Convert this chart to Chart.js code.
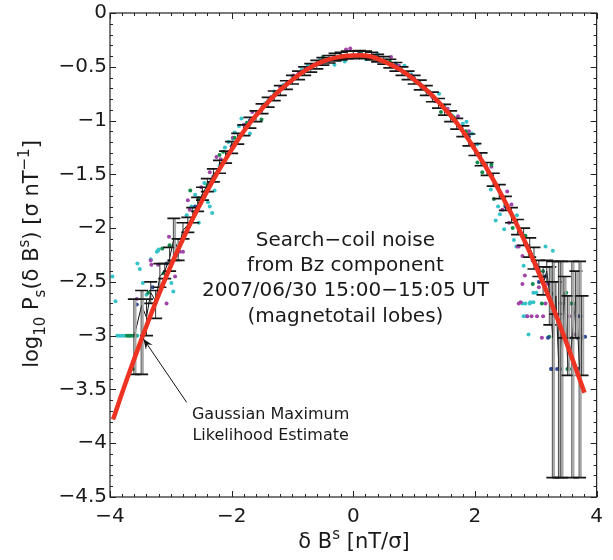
<!DOCTYPE html>
<html><head><meta charset="utf-8">
<script src="https://cdn.jsdelivr.net/npm/chart.js@4.4.1/dist/chart.umd.min.js"></script>
<style>html,body{margin:0;padding:0;background:#fff;}</style>
</head><body>
<canvas id="c" width="613" height="560" style="width:613px;height:560px;display:block"></canvas>
<script>
// ---------- data ----------
const xTickVals = [-4,-2,0,2,4];
const yTickVals = [0,-0.5,-1,-1.5,-2,-2.5,-3,-3.5,-4,-4.5];

// Gaussian maximum likelihood estimate (red curve), read at these x
const fitX = [-3.95,-3.75,-3.5,-3.25,-3.0,-2.75,-2.5,-2.25,-2.0,-1.75,-1.5,-1.25,-1.0,-0.75,-0.5,-0.25,0,0.25,0.5,0.75,1.0,1.25,1.5,1.75,2.0,2.25,2.5,2.75,3.0,3.25,3.5,3.8];
const fitY = [-3.78,-3.45,-3.06,-2.69,-2.35,-2.04,-1.76,-1.50,-1.27,-1.06,-0.89,-0.74,-0.62,-0.52,-0.45,-0.41,-0.395,-0.40,-0.45,-0.52,-0.62,-0.74,-0.89,-1.06,-1.27,-1.50,-1.76,-2.04,-2.35,-2.69,-3.06,-3.53];

// binned mean with error bars (black)
const binX = [-3.60,-3.48,-3.40,-3.33,-3.25,-3.18,-3.10,-3.02,-2.95,-2.88,-2.80,-2.72,-2.64,-2.56,-2.48,
  -2.40,-2.30,-2.20,-2.10,-2.00,-1.90,-1.80,-1.70,-1.60,-1.50,-1.40,-1.30,-1.20,-1.10,-1.00,-0.90,-0.80,-0.70,-0.60,-0.50,-0.40,-0.30,-0.20,-0.10,0.00,
  0.10,0.20,0.30,0.40,0.50,0.60,0.70,0.80,0.90,1.00,1.10,1.20,1.30,1.40,1.50,1.60,1.70,1.80,1.90,2.00,2.10,2.20,2.30,2.40,2.50,2.60,2.70,2.80,2.90,2.97,
  3.05,3.12,3.18,3.23,3.28,3.33,3.38,3.42,3.47,3.53,3.60,3.66,3.72,3.76];
const binMean = [-3.00,-2.72,-2.83,-2.60,-2.68,-2.45,-2.40,-2.28,-2.10,-2.20,-2.02,-1.97,-1.88,-1.78,-1.68,
  -1.60,-1.51,-1.43,-1.34,-1.25,-1.17,-1.09,-1.02,-0.96,-0.89,-0.83,-0.77,-0.72,-0.67,-0.62,-0.58,-0.54,-0.51,-0.48,-0.45,-0.43,-0.41,-0.40,-0.39,-0.39,
  -0.385,-0.39,-0.40,-0.42,-0.44,-0.47,-0.50,-0.54,-0.58,-0.62,-0.67,-0.72,-0.78,-0.84,-0.90,-0.96,-1.03,-1.10,-1.18,-1.27,-1.36,-1.45,-1.55,-1.66,-1.77,-1.88,-1.99,-2.08,-2.18,-2.28,
  -2.36,-2.52,-2.40,-2.63,-3.02,-2.63,-3.31,-3.02,-2.63,-3.31,-3.02,-2.63,-3.31,-3.02];
const binUpper = [-2.66,-2.58,-2.66,-2.50,-2.58,-2.33,-2.33,-2.18,-1.91,-2.10,-1.95,-1.90,-1.81,-1.715,-1.62,
  -1.54,-1.45,-1.37,-1.285,-1.195,-1.12,-1.04,-0.97,-0.91,-0.845,-0.785,-0.725,-0.675,-0.63,-0.58,-0.54,-0.50,-0.47,-0.44,-0.415,-0.395,-0.375,-0.365,-0.355,-0.355,
  -0.35,-0.355,-0.365,-0.385,-0.405,-0.43,-0.46,-0.50,-0.54,-0.58,-0.625,-0.675,-0.735,-0.795,-0.85,-0.91,-0.98,-1.05,-1.125,-1.215,-1.30,-1.39,-1.49,-1.595,-1.705,-1.81,-1.92,-2.00,-2.09,-2.18,
  -2.30,-2.36,-2.30,-2.36,-2.31,-2.50,-2.31,-2.31,-2.45,-2.63,-2.31,-2.40,-2.31,-2.63];
const binLower = [-3.36,-3.36,-3.00,-2.70,-2.84,-2.55,-2.47,-2.40,-2.30,-2.30,-2.10,-2.04,-1.95,-1.845,-1.74,
  -1.66,-1.57,-1.49,-1.395,-1.305,-1.22,-1.14,-1.07,-1.01,-0.935,-0.875,-0.815,-0.765,-0.71,-0.66,-0.62,-0.58,-0.55,-0.52,-0.485,-0.465,-0.445,-0.435,-0.425,-0.425,
  -0.42,-0.425,-0.435,-0.455,-0.475,-0.51,-0.54,-0.58,-0.62,-0.66,-0.715,-0.765,-0.825,-0.885,-0.95,-1.01,-1.08,-1.15,-1.235,-1.325,-1.42,-1.51,-1.61,-1.725,-1.835,-1.95,-2.06,-2.16,-2.27,-2.38,
  -2.45,-2.62,-2.50,-2.90,-4.32,-2.80,-4.32,-4.32,-3.02,-3.37,-4.32,-3.02,-4.32,-3.37];

// individual estimates (coloured dots) [x, y]
const cyanPts = [[-3.96,-2.45],[-3.91,-2.68],[-3.88,-3.0],[-3.84,-3.0],[-3.80,-3.0],[-3.76,-3.0],[-3.55,-3.0],[-3.55,-2.33],[-3.51,-2.38],[-3.46,-2.51],[-3.40,-2.62],[-3.33,-2.29],[-3.23,-2.22],[-3.20,-2.20],[-2.99,-2.51],[-2.96,-2.59],[-3.21,-2.21],[-2.90,-2.25],[-2.74,-1.88],[-2.60,-1.69],[-2.66,-1.80],[-2.54,-1.95],[-2.39,-1.76],[-2.36,-1.80],[-2.32,-1.86],[-2.28,-1.65],[-2.45,-1.58],[-2.20,-1.42],[-2.11,-1.25],[-2.05,-1.20],[-1.98,-1.17],[-1.95,-1.11],[-1.88,-1.05],[-1.84,-0.98],[-1.70,-1.12],[-1.60,-0.95],[-1.45,-0.84],[-1.30,-0.73],[-1.15,-0.67],[-1.0,-0.60],[-0.85,-0.53],[-0.75,-0.49],[-0.70,-0.49],[-0.55,-0.44],[-0.31,-0.48],[-0.14,-0.45],[0.05,-0.40],[0.21,-0.43],[0.40,-0.38],[0.55,-0.44],[0.70,-0.47],[0.84,-0.49],[0.95,-0.57],[1.10,-0.66],[1.25,-0.73],[1.41,-0.75],[1.50,-0.86],[1.62,-0.95],[1.80,-1.03],[1.86,-1.01],[1.95,-1.12],[2.04,-1.22],[2.12,-1.40],[2.26,-1.64],[2.34,-1.93],[2.41,-1.87],[2.38,-1.80],[2.48,-2.01],[2.64,-2.11],[2.69,-1.88],[2.68,-2.17],[2.80,-2.35],[2.96,-2.60],[3.01,-2.60],[2.85,-2.82],[2.91,-2.69],[2.96,-2.69],[2.88,-2.99],[3.16,-2.17],[3.28,-2.21],[2.78,-2.70],[2.83,-2.70],[2.90,-2.70],[2.80,-2.82]];
const magentaPts = [[-3.56,-2.66],[-3.32,-2.34],[-3.33,-2.30],[-3.21,-2.34],[-3.07,-2.70],[-3.03,-2.08],[-2.93,-2.45],[-2.85,-2.22],[-2.80,-2.22],[-2.72,-1.74],[-2.69,-1.83],[-2.50,-1.62],[-2.36,-1.48],[-2.25,-1.34],[-2.18,-1.36],[-1.98,-1.16],[-1.80,-1.04],[-1.66,-0.92],[-1.50,-0.88],[-1.35,-0.78],[-1.20,-0.69],[-0.99,-0.58],[-0.90,-0.56],[-0.80,-0.54],[-0.60,-0.47],[-0.40,-0.43],[-0.12,-0.34],[-0.05,-0.33],[0.10,-0.39],[0.30,-0.40],[0.62,-0.41],[0.75,-0.49],[0.95,-0.58],[1.15,-0.70],[1.35,-0.82],[1.55,-0.89],[1.72,-0.96],[1.90,-1.10],[2.10,-1.36],[2.27,-1.43],[2.45,-1.83],[2.53,-1.66],[2.56,-1.95],[2.60,-1.78],[2.70,-2.17],[2.72,-2.17],[2.78,-2.26],[2.82,-2.44],[2.78,-2.52],[2.75,-2.69],[2.72,-2.70],[2.86,-2.82],[3.02,-2.82],[2.93,-2.82],[3.10,-3.02],[3.16,-2.70],[3.12,-2.82],[3.30,-2.82],[3.40,-2.70],[3.35,-2.82],[3.55,-2.82],[3.62,-2.99],[3.65,-2.99],[3.27,-3.31],[3.05,-2.55],[3.20,-2.52]];
const greenPts = [[-3.72,-3.0],[-3.69,-3.0],[-3.66,-3.0],[-3.62,-3.0],[-3.58,-3.0],[-3.62,-3.31],[-3.37,-2.60],[-3.12,-2.42],[-3.02,-2.16],[-3.14,-2.19],[-2.68,-1.65],[-2.55,-1.72],[-2.40,-1.60],[-2.20,-1.32],[-2.14,-1.29],[-1.95,-1.16],[-1.75,-1.02],[-1.51,-0.99],[-1.30,-0.76],[-1.07,-0.65],[-0.85,-0.55],[-0.50,-0.41],[-0.30,-0.41],[0.13,-0.36],[0.35,-0.40],[0.60,-0.45],[0.90,-0.57],[1.05,-0.63],[1.20,-0.72],[1.44,-0.92],[1.65,-0.97],[1.85,-1.10],[2.04,-1.39],[2.12,-1.48],[2.27,-1.41],[2.31,-1.73],[2.50,-1.78],[2.62,-2.00],[2.83,-2.07],[2.90,-2.25],[2.98,-2.30],[3.05,-2.40],[3.12,-2.40],[3.28,-2.61],[3.50,-2.60],[3.48,-2.62],[3.45,-2.70],[3.22,-3.01],[3.10,-2.70],[3.58,-2.70],[3.62,-2.70],[3.52,-3.31],[3.55,-3.31],[3.42,-3.01],[2.95,-2.52]];
const bluePts = [[-3.56,-2.71],[-3.30,-2.55],[-3.07,-2.33],[-2.90,-2.22],[-2.60,-1.80],[-2.30,-1.52],[-2.00,-1.24],[-1.70,-1.00],[-1.40,-0.82],[-1.10,-0.66],[-0.80,-0.53],[-0.50,-0.44],[-0.20,-0.40],[0.10,-0.37],[0.40,-0.41],[0.70,-0.48],[1.00,-0.61],[1.30,-0.78],[1.60,-0.95],[1.90,-1.15],[2.20,-1.45],[2.50,-1.80],[2.75,-2.05],[2.95,-2.30],[3.05,-2.50],[3.15,-2.45],[3.20,-3.02],[3.25,-3.31],[3.35,-3.31],[3.40,-3.31],[3.45,-3.02],[3.60,-3.02],[3.70,-2.82],[3.74,-2.82],[3.68,-3.02],[3.78,-3.01],[3.81,-3.01],[3.70,-3.31]];

// annotations (data coordinates, text baselines)
const noteLines = ['Search\u2212coil noise','from Bz component','2007/06/30 15:00\u221215:05 UT','(magnetotail lobes)'];
const noteX = -0.13;
const noteY = [-2.163,-2.398,-2.634,-2.870];
const arrowLines = ['Gaussian Maximum','Likelihood Estimate'];
const arrowTextX = -1.36;
const arrowTextY = [-3.771,-3.974];
const arrowFrom = [-2.74,-3.62];
const arrowTo = [-3.45,-3.03];

// ---------- chart ----------
const FONT = '"DejaVu Sans", Verdana, sans-serif';
const fmt = v => (v < 0 ? '\u2212' + Math.abs(v) : String(v));
const toXY = (xs, ys) => xs.map((v, i) => ({x: v, y: ys[i]}));
const pairs = a => a.map(p => ({x: p[0], y: p[1]}));

function richWidth(ctx, parts){
  let w = 0;
  for (const p of parts){ ctx.font = p.size + 'px ' + FONT; w += ctx.measureText(p.t).width; }
  return w;
}
function drawRich(ctx, parts, cx, base){
  let x = cx - richWidth(ctx, parts)/2;
  ctx.textAlign = 'left'; ctx.textBaseline = 'alphabetic';
  for (const p of parts){
    ctx.font = p.size + 'px ' + FONT;
    ctx.fillText(p.t, x, base + (p.dy || 0));
    x += ctx.measureText(p.t).width;
  }
}

const deco = {
  id: 'deco',
  afterDatasetDraw(chart, args){
    if (args.index !== 1) return;
    const {ctx, scales:{x, y}} = chart;
    ctx.save();
    for (let i = 0; i < binX.length; i++){
      const px = x.getPixelForValue(binX[i]);
      const pt = y.getPixelForValue(binUpper[i]);
      const pb = y.getPixelForValue(binLower[i]);
      if (pb - pt > 40){
        ctx.strokeStyle = '#a8a8a8'; ctx.lineWidth = 2;
        ctx.beginPath(); ctx.moveTo(px + 1.2, pt); ctx.lineTo(px + 1.2, pb); ctx.stroke();
        ctx.strokeStyle = '#333'; ctx.lineWidth = 0.9;
        ctx.beginPath(); ctx.moveTo(px - 0.5, pt); ctx.lineTo(px - 0.5, pb); ctx.stroke();
      } else {
        ctx.strokeStyle = '#333'; ctx.lineWidth = 1;
        ctx.beginPath(); ctx.moveTo(px, pt); ctx.lineTo(px, pb); ctx.stroke();
      }
      ctx.strokeStyle = '#151515'; ctx.lineWidth = 1.7;
      ctx.beginPath();
      ctx.moveTo(px-6.5, pt); ctx.lineTo(px+6.5, pt);
      ctx.moveTo(px-6.5, pb); ctx.lineTo(px+6.5, pb);
      ctx.stroke();
    }
    ctx.restore();
  },
  afterDraw(chart){
    const {ctx, chartArea:a, scales:{x, y}} = chart;
    ctx.save();
    // box
    ctx.strokeStyle = '#222'; ctx.lineWidth = 1.2;
    ctx.strokeRect(a.left, a.top, a.right - a.left, a.bottom - a.top);
    // inward ticks on all four sides
    ctx.lineWidth = 1;
    ctx.beginPath();
    for (let k = 0; k <= 40; k++){
      const v = -4 + k*0.2;
      const major = Math.abs(v/2 - Math.round(v/2)) < 1e-6;
      const L = major ? 6 : 3;
      const px = Math.round(x.getPixelForValue(v)) + 0.5;
      ctx.moveTo(px, a.bottom); ctx.lineTo(px, a.bottom - L);
      ctx.moveTo(px, a.top); ctx.lineTo(px, a.top + L);
    }
    for (let k = 0; k <= 45; k++){
      const v = -k*0.1;
      const major = (k % 5) === 0;
      const L = major ? 6 : 3;
      const py = Math.round(y.getPixelForValue(v)) + 0.5;
      ctx.moveTo(a.left, py); ctx.lineTo(a.left + L, py);
      ctx.moveTo(a.right, py); ctx.lineTo(a.right - L, py);
    }
    ctx.stroke();

    ctx.fillStyle = '#1a1a1a';
    // x title
    drawRich(ctx, [{t:'\u03b4 B', size:21},{t:'s', size:15, dy:-9},{t:' [nT/\u03c3]', size:21}], 354, 548);
    // y title (rotated)
    ctx.save();
    ctx.translate(38, 254);
    ctx.rotate(-Math.PI/2);
    drawRich(ctx, [{t:'log', size:21},{t:'10', size:15, dy:7},{t:' P', size:21},{t:'s', size:15, dy:7},{t:'(\u03b4 B', size:21},{t:'s', size:15, dy:-9},{t:') [\u03c3 nT', size:21},{t:'\u22121', size:15, dy:-9},{t:']', size:21}], 0, 0);
    ctx.restore();

    // annotation block
    ctx.font = '20px ' + FONT; ctx.textAlign = 'center'; ctx.textBaseline = 'alphabetic';
    noteLines.forEach((s, i) => ctx.fillText(s, x.getPixelForValue(noteX), y.getPixelForValue(noteY[i])));
    ctx.font = '16px ' + FONT;
    arrowLines.forEach((s, i) => ctx.fillText(s, x.getPixelForValue(arrowTextX), y.getPixelForValue(arrowTextY[i])));

    // arrow
    const x0 = x.getPixelForValue(arrowFrom[0]), y0 = y.getPixelForValue(arrowFrom[1]);
    const x1 = x.getPixelForValue(arrowTo[0]), y1 = y.getPixelForValue(arrowTo[1]);
    ctx.strokeStyle = '#111'; ctx.lineWidth = 1;
    ctx.beginPath(); ctx.moveTo(x0, y0); ctx.lineTo(x1, y1); ctx.stroke();
    const ang = Math.atan2(y1 - y0, x1 - x0), h = 11, w = 0.38;
    ctx.fillStyle = '#111';
    ctx.beginPath();
    ctx.moveTo(x1, y1);
    ctx.lineTo(x1 - h*Math.cos(ang - w), y1 - h*Math.sin(ang - w));
    ctx.lineTo(x1 - h*0.6*Math.cos(ang), y1 - h*0.6*Math.sin(ang));
    ctx.lineTo(x1 - h*Math.cos(ang + w), y1 - h*Math.sin(ang + w));
    ctx.closePath(); ctx.fill();
    ctx.restore();
  }
};

const dotDs = (pts, col, ord) => ({type:'scatter', data: pairs(pts), pointRadius:2, pointBackgroundColor:col, pointBorderWidth:0, showLine:false, order:ord});

new Chart(document.getElementById('c'), {
  type: 'scatter',
  data: { datasets: [
    {type:'line', data: toXY(fitX, fitY), borderColor:'#ee3322', borderWidth:4.5, pointRadius:0, tension:0.4, fill:false, order:0},
    {type:'line', data: toXY(binX, binMean), borderColor:'#111', borderWidth:1, pointRadius:0, tension:0, fill:false, order:1},
    dotDs(cyanPts, '#33c3c8', 5),
    dotDs(magentaPts, '#a044a8', 4),
    dotDs(greenPts, '#118c4c', 3),
    dotDs(bluePts, '#2c4896', 2)
  ]},
  options: {
    responsive:false, animation:false, devicePixelRatio:1, events:[],
    layout:{padding:{left:0, right:15, top:10, bottom:0}},
    plugins:{legend:{display:false}, tooltip:{enabled:false}},
    scales:{
      x:{type:'linear', min:-4, max:4, afterBuildTicks: s => { s.ticks = xTickVals.map(v => ({value:v})); },
         afterFit: s => { s.height = 63; },
         grid:{display:false, drawTicks:false}, border:{display:false},
         ticks:{font:{family:FONT, size:20, lineHeight:1}, color:'#1a1a1a', padding:10, maxRotation:0, autoSkip:false, callback: v => fmt(v)}},
      y:{type:'linear', min:-4.5, max:0, afterBuildTicks: s => { s.ticks = yTickVals.map(v => ({value:v})); },
         afterFit: s => { s.width = 110; },
         grid:{display:false, drawTicks:false}, border:{display:false},
         ticks:{font:{family:FONT, size:20, lineHeight:1}, color:'#1a1a1a', padding:3, autoSkip:false, callback: v => fmt(v)}}
    }
  },
  plugins:[deco]
});
</script>
</body></html>
